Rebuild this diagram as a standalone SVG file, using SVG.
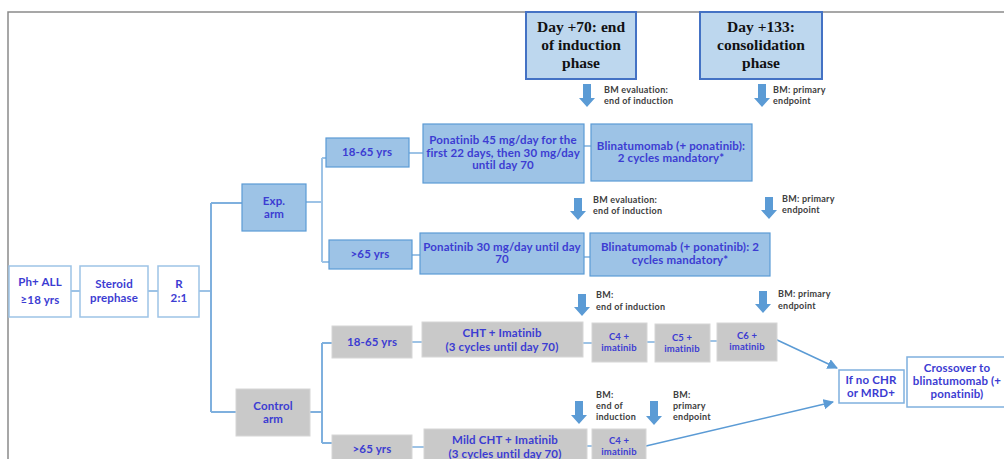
<svg xmlns="http://www.w3.org/2000/svg" width="1004" height="459" viewBox="0 0 1004 459">
<defs>
<style>
.frame{stroke:#8a8a8a;stroke-width:1.5;fill:none}
.hdr{fill:#bdd7ee;stroke:#4472c4;stroke-width:2}
.hdrt{font-family:"Liberation Serif",serif;font-size:15.5px;font-weight:bold;fill:#111;text-anchor:middle}
.wb{fill:#fff;stroke:#9dc3e6;stroke-width:1.5}
.bb{fill:#9dc3e6;stroke:#5b9bd5;stroke-width:1.2}
.gb{fill:#c9c9c9;stroke:#d6d6d6;stroke-width:1}
.t{font-family:Lato,"Liberation Sans",sans-serif;font-size:11.5px;font-weight:bold;fill:#3c3cd2;text-anchor:middle;letter-spacing:0.15px}
.sm{font-size:9.5px}
.s{font-family:Lato,"Liberation Sans",sans-serif;font-size:9px;font-weight:bold;fill:#404040;letter-spacing:0.25px}
.c{stroke:#9dc3e6;stroke-width:2;fill:none}
.cd{stroke:#7fb0de;stroke-width:2;fill:none}
.ar{fill:#5b9bd5}
.ln{stroke:#5b9bd5;stroke-width:1.5;fill:none}
</style>
<marker id="ah" viewBox="0 0 10 10" refX="9" refY="5" markerWidth="7" markerHeight="7" orient="auto">
<path d="M0,0 L10,5 L0,10 z" fill="#5b9bd5"/>
</marker>
</defs>
<rect width="1004" height="459" fill="#fff"/>
<path class="frame" d="M8,459 V12 H1004"/>

<g id="connectors">
<path class="c" d="M71,291 H80 M148,291 H158 M199,291 H211"/>
<path class="cd" d="M211,203 V412 M211,203 H242 M211,412 H236"/>
<path class="c" d="M306,202 H322 M322,158 V262 M322,158 H326 M322,262 H329"/>
<path class="cd" d="M310,412 H322 M322,343 V443 M322,343 H332 M322,443 H332"/>
<path class="c" d="M409,153 H423 M584,146 H591 M412,255 H420 M584,257 H590"/>
<path class="c" d="M412,342 H422 M583,343 H592 M647,342 H655 M710,341 H717 M412,447 H424 M587,446 H592"/>
<path class="ln" d="M775,339 L837,368" marker-end="url(#ah)"/>
<path class="ln" d="M646,446 L833,402" marker-end="url(#ah)"/>
</g>

<g id="hdr70">
<rect class="hdr" x="526" y="12" width="110" height="67"/>
<text class="hdrt" x="581" y="32">Day +70: end</text>
<text class="hdrt" x="581" y="50">of induction</text>
<text class="hdrt" x="581" y="68">phase</text>
</g>
<g id="hdr133">
<rect class="hdr" x="700" y="12" width="122" height="67"/>
<text class="hdrt" x="761" y="32">Day +133:</text>
<text class="hdrt" x="761" y="50">consolidation</text>
<text class="hdrt" x="761" y="68">phase</text>
</g>

<g id="arrows">
<path class="ar" d="M583,84 H591 V98 H595 L587,107 L579,98 H583 Z"/>
<path class="ar" d="M758,84 H766 V98 H770 L762,107 L754,98 H758 Z"/>
<path class="ar" d="M574,198 H582 V211 H586 L578,220 L570,211 H574 Z"/>
<path class="ar" d="M765,197 H773 V210 H777 L769,219 L761,210 H765 Z"/>
<path class="ar" d="M578,294 H586 V307 H590 L582,316 L574,307 H578 Z"/>
<path class="ar" d="M759,291 H767 V304 H771 L763,313 L755,304 H759 Z"/>
<path class="ar" d="M575,401 H583 V415 H587 L579,424 L571,415 H575 Z"/>
<path class="ar" d="M650,401 H658 V416 H662 L654,425 L646,416 H650 Z"/>
</g>
<g id="bm-labels">
<text class="s" x="604" y="93">BM evaluation:</text>
<text class="s" x="604" y="104">end of induction</text>
<text class="s" x="773" y="93">BM: primary</text>
<text class="s" x="773" y="104">endpoint</text>
<text class="s" x="593" y="203">BM evaluation:</text>
<text class="s" x="593" y="214">end of induction</text>
<text class="s" x="782" y="202">BM: primary</text>
<text class="s" x="782" y="213">endpoint</text>
<text class="s" x="596" y="298">BM:</text>
<text class="s" x="596" y="310">end of induction</text>
<text class="s" x="778" y="297">BM: primary</text>
<text class="s" x="778" y="309">endpoint</text>
<text class="s" x="596" y="398">BM:</text>
<text class="s" x="596" y="409">end of</text>
<text class="s" x="596" y="420">induction</text>
<text class="s" x="673" y="398">BM:</text>
<text class="s" x="673" y="409">primary</text>
<text class="s" x="673" y="420">endpoint</text>
</g>

<g id="phall">
<rect class="wb" x="9" y="266" width="62" height="51"/>
<text class="t" x="40" y="286">Ph+ ALL</text>
<text class="t" x="40" y="304">≥18 yrs</text>
</g>
<g id="steroid">
<rect class="wb" x="80" y="266" width="68" height="51"/>
<text class="t" x="114" y="288">Steroid</text>
<text class="t" x="114" y="302">prephase</text>
</g>
<g id="rand">
<rect class="wb" x="158" y="266" width="41" height="51"/>
<text class="t" x="179" y="288">R</text>
<text class="t" x="179" y="302">2:1</text>
</g>
<g id="exparm">
<rect class="bb" x="242" y="184" width="64" height="47"/>
<text class="t" x="274" y="205">Exp.</text>
<text class="t" x="274" y="218">arm</text>
</g>
<g id="exp1865">
<rect class="bb" x="326" y="138" width="83" height="29"/>
<text class="t" x="367" y="156">18-65 yrs</text>
</g>
<g id="exp65">
<rect class="bb" x="329" y="240" width="83" height="29"/>
<text class="t" x="370" y="258">&gt;65 yrs</text>
</g>
<g id="pona45">
<rect class="bb" x="423" y="124" width="161" height="59"/>
<text class="t" x="503" y="144">Ponatinib 45 mg/day  for the</text>
<text class="t" x="503" y="157">first  22 days, then 30 mg/day</text>
<text class="t" x="503" y="169">until day 70</text>
</g>
<g id="blina1">
<rect class="bb" x="591" y="124" width="161" height="57"/>
<text class="t" x="671" y="150">Blinatumomab  (+ ponatinib):</text>
<text class="t" x="671" y="162">2 cycles mandatory*</text>
</g>
<g id="pona30">
<rect class="bb" x="420" y="233" width="164" height="41"/>
<text class="t" x="502" y="251">Ponatinib 30 mg/day until day</text>
<text class="t" x="502" y="263">70</text>
</g>
<g id="blina2">
<rect class="bb" x="590" y="233" width="180" height="43"/>
<text class="t" x="680" y="251">Blinatumomab  (+ ponatinib): 2</text>
<text class="t" x="680" y="264">cycles mandatory*</text>
</g>

<g id="ctrlarm">
<rect class="gb" x="236" y="389" width="74" height="47"/>
<text class="t" x="273" y="410">Control</text>
<text class="t" x="273" y="423">arm</text>
</g>
<g id="ctrl1865">
<rect class="gb" x="332" y="326" width="80" height="32"/>
<text class="t" x="372" y="346">18-65 yrs</text>
</g>
<g id="ctrl65">
<rect class="gb" x="332" y="435" width="80" height="30"/>
<text class="t" x="372" y="453">&gt;65 yrs</text>
</g>
<g id="cht">
<rect class="gb" x="422" y="322" width="161" height="35"/>
<text class="t" x="502" y="337">CHT + Imatinib</text>
<text class="t" x="502" y="351">(3 cycles until day  70)</text>
</g>
<g id="c4a">
<rect class="gb" x="592" y="323" width="55" height="39"/>
<text class="t sm" x="619" y="340">C4 +</text>
<text class="t sm" x="619" y="351">imatinib</text>
</g>
<g id="c5">
<rect class="gb" x="655" y="324" width="55" height="38"/>
<text class="t sm" x="682" y="341">C5 +</text>
<text class="t sm" x="682" y="352">imatinib</text>
</g>
<g id="c6">
<rect class="gb" x="717" y="323" width="60" height="38"/>
<text class="t sm" x="747" y="339">C6 +</text>
<text class="t sm" x="747" y="350">imatinib</text>
</g>
<g id="mildcht">
<rect class="gb" x="424" y="429" width="163" height="35"/>
<text class="t" x="505" y="444">Mild CHT + Imatinib</text>
<text class="t" x="505" y="458">(3 cycles until day 70)</text>
</g>
<g id="c4b">
<rect class="gb" x="592" y="429" width="54" height="35"/>
<text class="t sm" x="619" y="444">C4 +</text>
<text class="t sm" x="619" y="455">imatinib</text>
</g>
<g id="ifnochr">
<rect class="wb" x="839" y="370" width="65" height="33" style="stroke:#7fb0de"/>
<text class="t" x="871" y="384">If  no CHR</text>
<text class="t" x="871" y="397">or MRD+</text>
</g>
<g id="crossover">
<rect class="wb" x="907" y="357" width="104" height="50" style="stroke:#7fb0de"/>
<text class="t" x="957" y="372">Crossover to</text>
<text class="t" x="957" y="385">blinatumomab (+</text>
<text class="t" x="957" y="398">ponatinib)</text>
</g>
</svg>
